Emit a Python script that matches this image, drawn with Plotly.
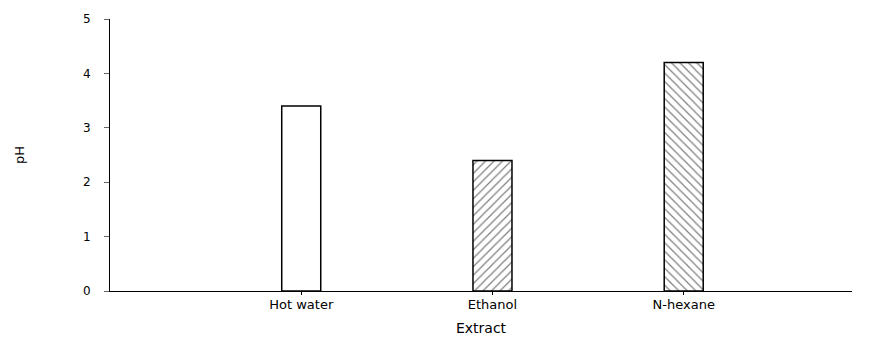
import plotly.graph_objects as go

categories = ["Hot water", "Ethanol", "N-hexane"]
ph_values = [3.4, 2.4, 4.2]
patterns = ["", "/", "\\"]
y_ticks = [0, 1, 2, 3, 4, 5]

fig = go.Figure()
fig.add_trace(go.Bar(
    x=categories,
    y=ph_values,
    width=0.204,
    marker=dict(
        color="white",
        line=dict(color="black", width=1.5),
        pattern=dict(shape=patterns, size=6, solidity=0.2, fgcolor="black", bgcolor="white"),
    ),
    showlegend=False,
))

font = "DejaVu Sans, Liberation Sans, Arial, sans-serif"
# the page body adds an 8px offset; margins compensate so the plot area sits where the reference has it
fig.update_layout(
    width=869, height=337,
    margin=dict(l=102, r=25, t=11, b=54),
    plot_bgcolor="white", paper_bgcolor="white",
    font=dict(family=font, size=12, color="black"),
    xaxis=dict(
        range=[-1.0, 2.88],
        automargin=False,
        showline=True, linecolor="black", linewidth=1,
        ticks="outside", ticklen=3, tickcolor="black", tickwidth=1,
        showgrid=False, zeroline=False,
        ticklabelstandoff=-2,
        title=dict(text="Extract", font=dict(size=14), standoff=12),
        tickfont=dict(size=13),
    ),
    yaxis=dict(
        range=[0, 5],
        tickvals=y_ticks,
        automargin=False,
        showline=True, linecolor="black", linewidth=1,
        ticks="outside", ticklen=5, tickcolor="#666", tickwidth=1,
        showgrid=False, zeroline=False,
        ticklabelstandoff=11,
        title=dict(text="pH", font=dict(size=13), standoff=55),
        tickfont=dict(size=12),
    ),
)

fig.write_html("out.html")
